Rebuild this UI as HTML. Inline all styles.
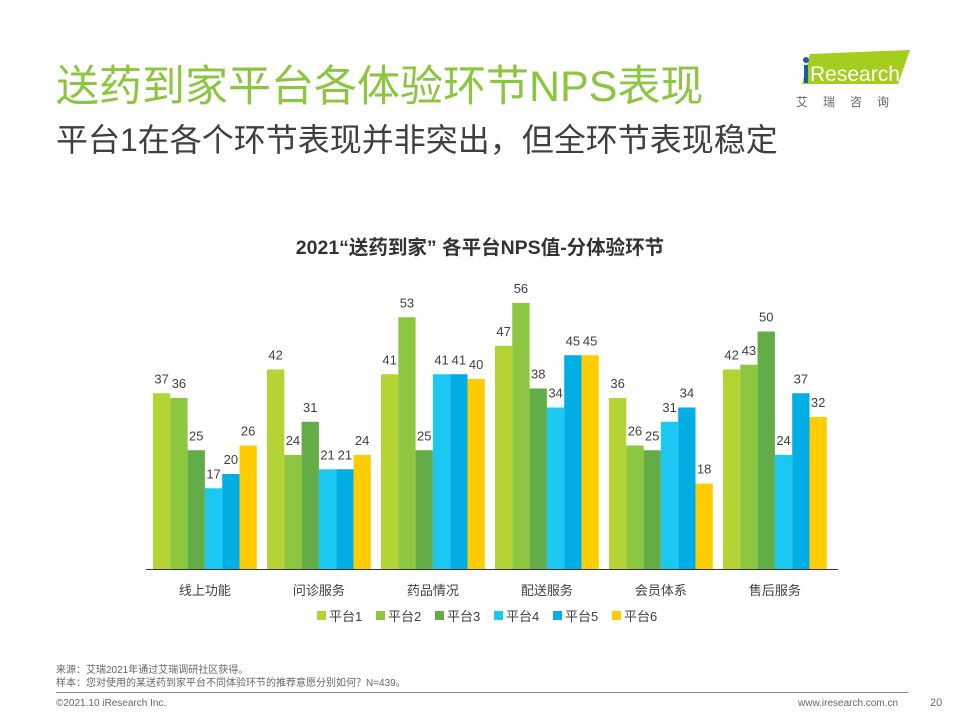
<!DOCTYPE html>
<html><head><meta charset="utf-8">
<style>
body{margin:0;width:960px;height:720px;background:#fff;font-family:"Liberation Sans","Noto Sans CJK SC",sans-serif;position:relative;overflow:hidden}
.abs{position:absolute;white-space:nowrap}
</style></head><body>
<div class="abs" style="left:56px;top:52px;font-size:43px;color:#8cc63f">送药到家平台各体验环节NPS表现</div>
<div class="abs" style="left:56px;top:115px;font-size:32px;color:#3f3f3f">平台1在各个环节表现并非突出，但全环节表现稳定</div>
<svg class="abs" style="left:790px;top:48px" width="130" height="62">
<polygon points="20,6 120,2 108,36 12,36" fill="#a5cd1e"/>
<circle cx="16" cy="12" r="3" fill="#1a5aa8"/>
<rect x="14" y="17" width="4" height="18" fill="#1a5aa8"/>
<text x="20" y="33" font-size="21" fill="#fff" font-family="Liberation Sans, sans-serif">Research</text>
<text x="6" y="58" font-size="12" fill="#666" letter-spacing="15" font-family="Liberation Sans, Noto Sans CJK SC, sans-serif">艾瑞咨询</text>
</svg>
<div class="abs" style="left:0;width:960px;text-align:center;top:231px;font-size:19.5px;font-weight:bold;color:#333">2021“送药到家” 各平台NPS值-分体验环节</div>
<svg id="chart" class="abs" style="left:0;top:0" width="960" height="720"></svg>
<div class="abs" style="left:56px;top:664px;font-size:10px;color:#666;line-height:13px">来源：艾瑞2021年通过艾瑞调研社区获得。<br>样本：您对使用的某送药到家平台不同体验环节的推荐意愿分别如何？N=439。</div>
<div class="abs" style="left:56px;top:692px;width:852px;height:1px;background:#888"></div>
<div class="abs" style="left:56px;top:698px;font-size:10px;color:#666">©2021.10 iResearch Inc.</div>
<div class="abs" style="left:798px;top:698px;font-size:10px;color:#666">www.iresearch.com.cn</div>
<div class="abs" style="left:930px;top:697px;font-size:11px;color:#666">20</div>
<script>
const categories=["线上功能","问诊服务","药品情况","配送服务","会员体系","售后服务"];
const seriesNames=["平台1","平台2","平台3","平台4","平台5","平台6"];
const p1=[37,42,41,47,36,42];
const p2=[36,24,53,56,26,43];
const p3=[25,31,25,38,25,50];
const p4=[17,21,41,34,31,24];
const p5=[20,21,41,45,34,37];
const p6=[26,24,40,45,18,32];
const series=[p1,p2,p3,p4,p5,p6];
const colors=["#b4d334","#8dc63f","#62ad47","#1bc8f2","#00aee6","#ffcc00"];
const svg=document.getElementById('chart');
const NS="http://www.w3.org/2000/svg";
const base=569, scale=4.75, gx0=153, gstep=114, bw=17.3;
const y=v=>base-v*scale;
const x=(c,s)=>gx0+c*gstep+s*bw;
function mk(t,a){const e=document.createElementNS(NS,t);for(const k in a)e.setAttribute(k,a[k]);svg.appendChild(e);return e;}
series.forEach((arr,s)=>{arr.forEach((v,c)=>{
 const r=mk('rect',{x:x(c,s),y:y(v),width:bw,height:v*scale,fill:colors[s]});
 
 
 const t=mk('text',{x:x(c,s)+bw/2,y:y(v)-10,'text-anchor':'middle','font-size':13,fill:'#404040'});
 t.textContent=v;
 
 
});});
const ax=mk('line',{x1:146,x2:838,y1:base+0.5,y2:base+0.5,stroke:'#333','stroke-width':1});


categories.forEach((c,i)=>{
 const t=mk('text',{x:gx0+i*gstep+3*bw,y:595,'text-anchor':'middle','font-size':13,fill:'#404040'});
 t.textContent=c;
 
 
});
seriesNames.forEach((n,i)=>{
 const lx=317+i*59;
 const r=mk('rect',{x:lx,y:611,width:9,height:9,fill:colors[i]});
 
 
 const t=mk('text',{x:lx+12,y:621,'font-size':13,fill:'#404040'});
 t.textContent=n;
 
 
});
</script>
</body></html>
